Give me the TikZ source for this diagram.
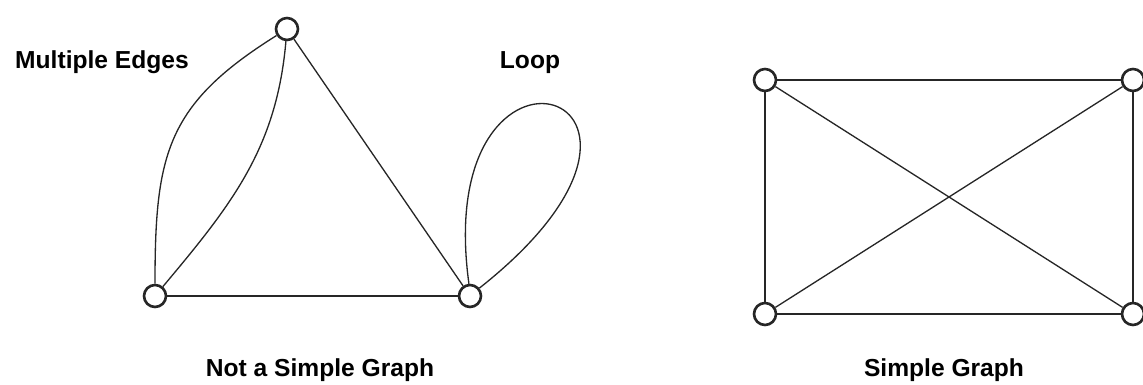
\documentclass[tikz,border=0pt]{standalone}
\usepackage{fontspec}
\setmainfont{Liberation Sans}
\usetikzlibrary{positioning}
\tikzset{
  vtx/.style={circle, draw=black!85, line width=1.5pt, fill=white, minimum size=0.44cm, inner sep=0pt},
  edge/.style={line width=0.75pt, black!85},
  lbl/.style={font=\bfseries\fontsize{14}{16}\selectfont, anchor=base},
}

\begin{document}
\begin{tikzpicture}[x=0.02cm, y=0.02cm]
  \useasboundingbox (0,0) rectangle (1143,385);
  % not a simple graph
  \node[vtx] (top) at (287,356) {};
  \node[vtx] (lft) at (155,89) {};
  \node[vtx] (rgt) at (470,89) {};
  \draw[edge] (top) to[out=212, in=90, looseness=1.2] (lft);
  \draw[edge] (top) to[out=265, in=50] (lft);
  \draw[edge] (top) -- (rgt);
  \draw[edge] (lft) -- (rgt);
  \draw[edge] (rgt.95) .. controls (430,385) and (730,295) .. (rgt.40);
  \node[lbl] (multi) at (102,316) {Multiple Edges};
  \node[lbl] (loop) at (530,316) {Loop};
  \node[lbl] (nsg) at (320,8) {Not a Simple Graph};
  % simple graph
  \node[vtx] (tl) at (765,305) {};
  \node[vtx] (tr) at (1133,305) {};
  \node[vtx] (bl) at (765,71) {};
  \node[vtx] (br) at (1133,71) {};
  \foreach \a/\b in {tl/tr, tr/br, br/bl, bl/tl, tl/br, bl/tr}
    \draw[edge] (\a) -- (\b);
  \node[lbl] (sg) at (944,8) {Simple Graph};
\end{tikzpicture}
\end{document}
